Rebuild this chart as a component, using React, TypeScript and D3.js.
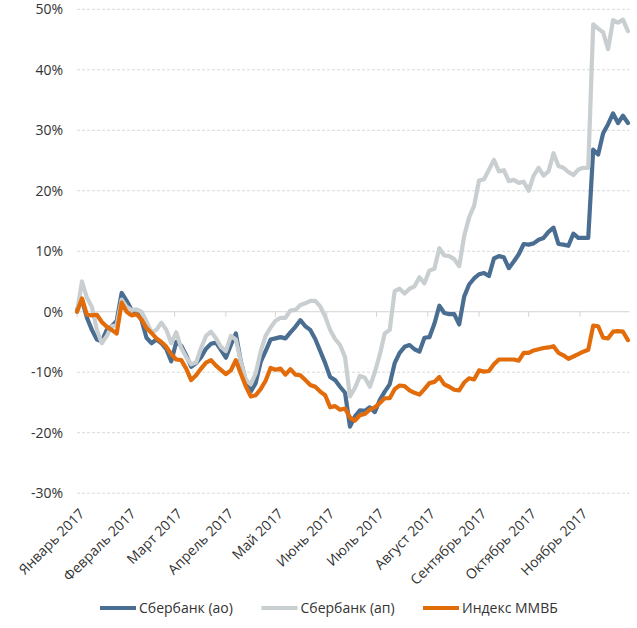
import { useMemo } from 'react';
import * as d3 from 'd3';

// точки ряда: каждые 3 дня, 2017 год
const dates = [
  '01.01', '04.01', '07.01', '10.01', '13.01', '16.01', '19.01', '22.01', '25.01', '28.01', '31.01',
  '03.02', '06.02', '09.02', '12.02', '15.02', '18.02', '21.02', '24.02', '27.02',
  '02.03', '05.03', '08.03', '11.03', '14.03', '17.03', '20.03', '23.03', '26.03', '29.03',
  '01.04', '04.04', '07.04', '10.04', '13.04', '16.04', '19.04', '22.04', '25.04', '28.04',
  '01.05', '04.05', '07.05', '10.05', '13.05', '16.05', '19.05', '22.05', '25.05', '28.05', '31.05',
  '03.06', '06.06', '09.06', '12.06', '15.06', '18.06', '21.06', '24.06', '27.06', '30.06',
  '03.07', '06.07', '09.07', '12.07', '15.07', '18.07', '21.07', '24.07', '27.07', '30.07',
  '02.08', '05.08', '08.08', '11.08', '14.08', '17.08', '20.08', '23.08', '26.08', '29.08',
  '01.09', '04.09', '07.09', '10.09', '13.09', '16.09', '19.09', '22.09', '25.09', '28.09',
  '01.10', '04.10', '07.10', '10.10', '13.10', '16.10', '19.10', '22.10', '25.10', '28.10', '31.10',
  '03.11', '06.11', '09.11', '12.11', '15.11', '18.11', '21.11', '24.11', '27.11', '30.11',
];

const sberAo = [
  0.3, 2.0, -1.0, -3.0, -4.6, -4.9, -3.0, -2.4, -1.5, 3.1, 1.8,
  0.3, 0, -1.4, -4.3, -5.2, -4.6, -5.2, -6.2, -8.2,
  -5.0, -5.6, -7.2, -9.1, -8.5, -7.5, -6.1, -5.3, -5.1, -6.3,
  -7.6, -5.5, -3.6, -8.2, -11.4, -13.2, -11.8, -8.3, -6.5, -4.6,
  -4.4, -4.2, -4.4, -3.4, -2.5, -1.4, -2.4, -3.0, -4.5, -6.5, -8.5,
  -10.8, -11.3, -12.4, -13.4, -19.0, -17.3, -16.3, -16.4, -15.8, -16.6,
  -14.6, -13.2, -12.0, -8.5, -6.8, -5.8, -5.5, -6.2, -6.6, -4.3,
  -4.2, -2.0, 1.0, -0.2, -0.4, -0.4, -2.1, 2.5, 4.5, 5.5,
  6.2, 6.4, 5.9, 8.8, 9.2, 9.0, 7.2, 8.3, 9.5, 11.2,
  11.1, 11.3, 11.9, 12.2, 13.2, 13.9, 11.2, 11.1, 10.9, 12.9, 12.2,
  12.2, 12.2, 26.8, 26.0, 29.5, 31.0, 32.8, 31.2, 32.4, 31.2,
];

const sberAp = [
  0, 5.0, 2.3, 0.8, -3.0, -5.2, -4.0, -2.4, -2.2, 2.0, 0.8,
  0.3, 0.4, 0, -1.6, -3.4, -3.0, -1.8, -3.0, -5.2,
  -3.4, -6.0, -7.5, -8.7, -8.4, -6.0, -4.0, -3.3, -4.4, -5.8,
  -6.5, -4.0, -4.6, -8.2, -11.2, -12.0, -10.2, -6.6, -4.0, -2.6,
  -1.5, -1.0, -1.0, 0.2, 0.3, 1.1, 1.4, 1.8, 1.8, 0.9, -0.8,
  -3.0, -4.5, -5.5, -7.5, -14.0, -12.6, -10.6, -10.9, -12.4, -10.0,
  -7.1, -3.6, -3.0, 3.4, 3.8, 3.0, 3.8, 4.2, 5.7, 4.7,
  6.8, 7.1, 10.5, 9.3, 9.2, 8.7, 7.5, 12.5, 15.6, 17.5,
  21.7, 21.9, 23.5, 25.1, 23.2, 23.4, 21.6, 21.8, 21.3, 21.5,
  20.0, 22.5, 23.8, 22.5, 23.2, 26.2, 24.1, 23.8, 23.1, 22.6, 23.5,
  23.8, 23.8, 47.5, 46.8, 46.2, 43.4, 48.2, 47.8, 48.3, 46.4,
];

const micex = [
  0, 2.2, -0.5, -0.6, -0.5, -1.7, -2.5, -3.0, -3.6, 1.5, 0,
  -0.6, -0.4, -1.3, -2.7, -3.5, -4.4, -5.0, -5.8, -7.0,
  -7.9, -8.0, -9.4, -11.3, -10.5, -9.4, -8.4, -8.0, -8.9, -9.6,
  -10.3, -9.7, -8.0, -10.2, -12.3, -14.0, -13.8, -12.8, -11.4, -9.3,
  -9.6, -9.4, -10.4, -9.5, -10.4, -10.5, -11.3, -12.1, -12.4, -13.2, -13.8,
  -15.8, -15.6, -16.2, -16.0, -17.5, -18.0, -17.1, -16.9, -16.2, -15.8,
  -15.1, -14.3, -14.3, -12.8, -12.2, -12.3, -13.0, -13.4, -13.7, -12.8,
  -11.8, -11.6, -10.8, -12.0, -12.4, -12.9, -13.0, -11.7, -11.0, -11.2,
  -9.7, -9.9, -9.8, -8.7, -7.9, -7.9, -7.9, -7.9, -8.1, -6.8,
  -6.8, -6.4, -6.2, -6.0, -5.9, -5.7, -6.8, -7.2, -7.8, -7.4, -7.0,
  -6.6, -6.3, -2.3, -2.4, -4.3, -4.4, -3.3, -3.2, -3.3, -4.7,
];

const monthLabels = [
  'Январь 2017', 'Февраль 2017', 'Март 2017', 'Апрель 2017', 'Май 2017', 'Июнь 2017',
  'Июль 2017', 'Август 2017', 'Сентябрь 2017', 'Октябрь 2017', 'Ноябрь 2017',
];

const yTicks = [-30, -20, -10, 0, 10, 20, 30, 40, 50];

const seriesNames = ['Сбербанк (ао)', 'Сбербанк (ап)', 'Индекс ММВБ'];
const seriesColors = ['#4A6D92', '#C9CED0', '#E36C0A'];

const font = "'Open Sans', sans-serif";

export default function App() {
  const width = 637;
  const height = 628;
  const margin = { top: 9.3, right: 7.4, bottom: 134.8, left: 77 };

  const parse = d3.timeParse('%d.%m.%Y');
  const times = dates.map((d) => parse(`${d}.2017`) as Date);

  const x = useMemo(() => {
    return d3
      .scaleTime()
      .domain([new Date(2017, 0, 1), new Date(2017, 11, 1)])
      .range([margin.left, width - margin.right]);
  }, [margin.left, margin.right]);

  const y = useMemo(() => {
    return d3.scaleLinear().domain([-30, 50]).range([height - margin.bottom, margin.top]);
  }, [margin.top, margin.bottom]);

  const months = d3.timeMonth.range(new Date(2017, 0, 1), new Date(2017, 11, 1));

  const line = d3
    .line<number>()
    .x((_, i) => x(times[i]))
    .y((d) => y(d));

  const series = [sberAo, sberAp, micex];
  const [x0, x1] = x.range();

  return (
    <svg
      width={width}
      height={height}
      style={{ position: 'absolute', left: 0, top: 0, background: '#fff' }}
      fontFamily={font}
    >
      {/* сетка */}
      {yTicks.map((t) => (
        <line
          key={`g${t}`}
          x1={x0}
          x2={x1}
          y1={y(t)}
          y2={y(t)}
          stroke={t === 0 ? '#D4D4D4' : '#D9D9D9'}
          strokeWidth={1}
          strokeDasharray={t === 0 ? undefined : '3,2'}
        />
      ))}
      {months.map((m) => (
        <line key={`t${+m}`} x1={x(m)} x2={x(m)} y1={y(0)} y2={y(0) + 5} stroke="#D4D4D4" />
      ))}

      {/* подписи оси Y */}
      {yTicks.map((t) => (
        <text
          key={`y${t}`}
          x={63}
          y={y(t)}
          dy="0.35em"
          textAnchor="end"
          fontSize={14}
          fill="#333"
        >
          {`${t}%`}
        </text>
      ))}

      {/* подписи оси X */}
      {months.map((m, i) => (
        <text
          key={`x${i}`}
          transform={`translate(${x(m) + 5},${height - margin.bottom + 18}) rotate(-45)`}
          dy="0.35em"
          textAnchor="end"
          fontSize={14}
          fill="#333"
        >
          {monthLabels[i]}
        </text>
      ))}

      {/* линии */}
      {series.map((s, i) => (
        <path
          key={seriesNames[i]}
          d={line(s)!}
          fill="none"
          stroke={seriesColors[i]}
          strokeWidth={4.2}
          strokeLinejoin="round"
          strokeLinecap="round"
        />
      ))}

      {/* легенда */}
      {seriesNames.map((name, i) => {
        const lx = 100 + i * 161.5;
        return (
          <g key={`l${i}`} transform={`translate(${lx},608)`}>
            <line x1={0} x2={36} y1={0} y2={0} stroke={seriesColors[i]} strokeWidth={4} />
            <text x={39} y={0} dy="0.35em" fontSize={14} fill="#333">
              {name}
            </text>
          </g>
        );
      })}
    </svg>
  );
}
